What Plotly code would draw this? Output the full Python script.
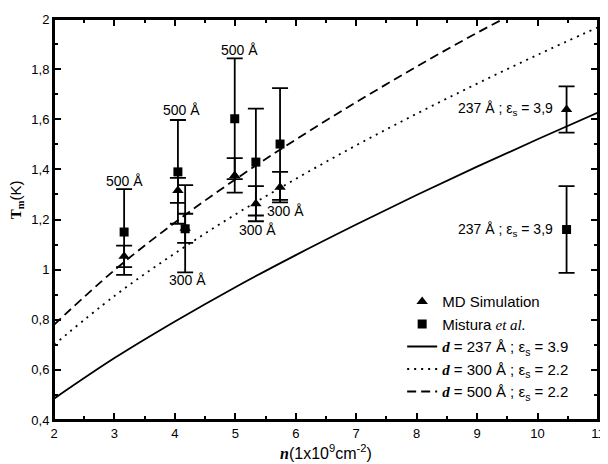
import plotly.graph_objects as go

# ---- data ----
n_pts = [3.16, 4.05, 4.17, 4.99, 5.34, 5.74, 10.48]
md_T = [1.053, 1.316, 1.165, 1.376, 1.263, 1.329, 1.639]
md_err = [0.043, 0.050, 0.058, 0.069, 0.070, 0.061, 0.092]
mis_T = [1.150, 1.390, 1.163, 1.602, 1.429, 1.501, 1.160]
mis_err = [0.171, 0.207, 0.174, 0.241, 0.213, 0.223, 0.173]

n_curve = [2, 3, 4, 5, 6, 7, 8, 9, 10, 11]
T_237 = [0.485, 0.647, 0.793, 0.930, 1.058, 1.180, 1.298, 1.411, 1.520, 1.627]
T_300 = [0.700, 0.895, 1.065, 1.220, 1.362, 1.496, 1.622, 1.742, 1.857, 1.967]
T_500 = [0.780, 0.998, 1.188, 1.360, 1.519, 1.668, 1.810, 1.945, 2.070, 2.190]

y_tickvals = [0.4, 0.6, 0.8, 1.0, 1.2, 1.4, 1.6, 1.8, 2.0]
y_ticktext = ["0,4", "0,6", "0,8", "1", "1,2", "1,4", "1,6", "1,8", "2"]
x_tickvals = [2, 3, 4, 5, 6, 7, 8, 9, 10, 11]

label_text = ["500 Å", "500 Å", "500 Å", "300 Å", "300 Å", "300 Å",
              "237 Å ; ε<sub>s</sub> = 3,9", "237 Å ; ε<sub>s</sub> = 3,9"]
label_n = [3.165, 4.116, 5.07, 4.21, 5.37, 5.83, 10.29, 10.29]
label_T = [1.353, 1.635, 1.875, 0.957, 1.160, 1.232, 1.639, 1.160]
label_anchor = ["center", "center", "center", "center", "center", "center", "right", "right"]

SANS = "Liberation Sans, Arial, sans-serif"
SERIF = "Liberation Serif, Times New Roman, serif"
dB = f'<span style="font-family:{SERIF}"><b><i>d</i></b></span>'

fig = go.Figure()

fig.add_trace(go.Scatter(
    x=n_pts, y=md_T, mode="markers", name="MD Simulation",
    marker=dict(symbol="triangle-up", size=10, color="black"),
    error_y=dict(type="data", array=md_err, visible=True, color="black",
                 thickness=1.8, width=8),
))
fig.add_trace(go.Scatter(
    x=n_pts, y=mis_T, mode="markers",
    name=f'Mistura <span style="font-family:{SERIF}"><i>et al.</i></span>',
    marker=dict(symbol="square", size=9, color="black"),
    error_y=dict(type="data", array=mis_err, visible=True, color="black",
                 thickness=1.8, width=8),
))
fig.add_trace(go.Scatter(
    x=n_curve, y=T_237, mode="lines", line_shape="spline",
    name=f"{dB} = 237 Å ; ε<sub>s</sub> = 3.9",
    line=dict(color="black", width=1.8),
))
fig.add_trace(go.Scatter(
    x=n_curve, y=T_300, mode="lines", line_shape="spline",
    name=f"{dB} = 300 Å ; ε<sub>s</sub> = 2.2",
    line=dict(color="black", width=1.8, dash="2px,5px"),
))
fig.add_trace(go.Scatter(
    x=n_curve, y=T_500, mode="lines", line_shape="spline",
    name=f"{dB} = 500 Å ; ε<sub>s</sub> = 2.2",
    line=dict(color="black", width=1.8, dash="9px,5px"),
))

for t, xn, yt, a in zip(label_text, label_n, label_T, label_anchor):
    fig.add_annotation(x=xn, y=yt, text=t, showarrow=False, xanchor=a,
                       yanchor="middle", font=dict(size=14, color="black", family=SANS))

# axis titles as annotations
fig.add_annotation(
    xref="paper", yref="paper", x=-0.0685, y=0.55, xanchor="center", yanchor="middle",
    text=f'<span style="font-family:{SERIF}"><b>T<sub>m</sub></b></span>(K)',
    textangle=-90, showarrow=False, font=dict(size=15, color="black", family=SANS),
)
fig.add_annotation(
    xref="paper", yref="paper", x=0.5, y=-0.079, xanchor="center", yanchor="middle",
    text=f'<span style="font-family:{SERIF}"><b><i>n</i></b></span>(1x10<sup>9</sup>cm<sup>-2</sup>)',
    showarrow=False, font=dict(size=16, color="black", family=SANS),
)

# plot frame
fig.add_shape(type="rect", xref="paper", yref="paper", x0=0, y0=0, x1=1, y1=1,
              line=dict(color="black", width=2), layer="above")

axis_common = dict(
    showline=True, linecolor="black", linewidth=2, mirror="ticks",
    ticks="inside", ticklen=7, tickwidth=1.5, tickcolor="black",
    showgrid=False, zeroline=False, ticklabeloverflow="allow",
    tickfont=dict(size=13, color="black", family=SANS),
)

fig.update_xaxes(
    range=[2, 11], tickvals=x_tickvals,
    minor=dict(dtick=0.5, ticks="inside", ticklen=4, tickwidth=1.5, tickcolor="black", showgrid=False),
    **axis_common,
)
fig.update_yaxes(
    range=[0.4, 2.0], tickvals=y_tickvals, ticktext=y_ticktext,
    minor=dict(dtick=0.1, tick0=0.4, ticks="inside", ticklen=4, tickwidth=1.5, tickcolor="black", showgrid=False),
    **axis_common,
)

# page body has an 8px default margin, so the figure is offset to fit the window
fig.update_layout(
    width=600, height=456,
    margin=dict(l=45.8, r=3.4, t=5.3, b=44.3),
    plot_bgcolor="white", paper_bgcolor="white",
    font=dict(family=SANS, color="black"),
    legend=dict(x=0.64, y=0.336, xanchor="left", yanchor="top",
                bgcolor="rgba(0,0,0,0)", font=dict(size=15, color="black", family=SANS),
                tracegroupgap=0),
    showlegend=True,
)

fig.write_html("out.html")
